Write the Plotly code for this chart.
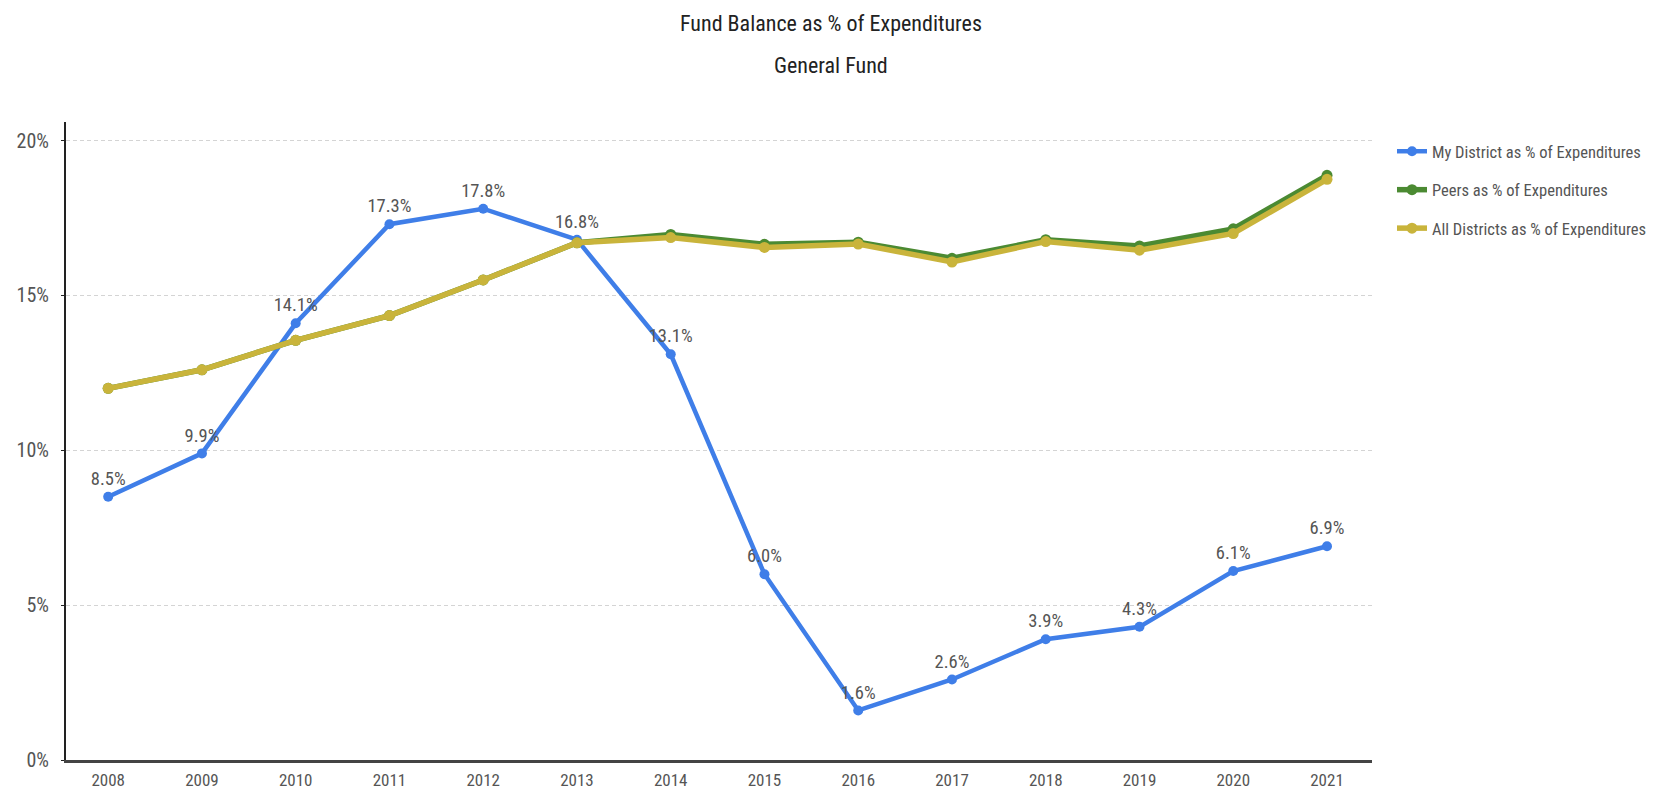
import plotly.graph_objects as go

years = ["2008", "2009", "2010", "2011", "2012", "2013", "2014", "2015", "2016", "2017", "2018", "2019", "2020", "2021"]
my_district = [8.5, 9.9, 14.1, 17.3, 17.8, 16.8, 13.1, 6.0, 1.6, 2.6, 3.9, 4.3, 6.1, 6.9]
peers = [12.0, 12.6, 13.55, 14.35, 15.5, 16.7, 16.97, 16.65, 16.72, 16.2, 16.8, 16.6, 17.15, 18.88]
all_districts = [12.0, 12.6, 13.55, 14.35, 15.5, 16.7, 16.87, 16.55, 16.66, 16.08, 16.74, 16.46, 17.0, 18.75]
y_ticks = [0, 5, 10, 15, 20]
y_tick_labels = ["0%", "5%", "10%", "15%", "20%"]

FONT = "Roboto Condensed, Liberation Sans Narrow, DejaVu Sans Condensed, Arial Narrow, sans-serif"

# The page has an 8px body margin, so the figure is sized to fit inside it.
W, H = 1656, 784
L, R, T, B = 58, 292, 114, 32
PW, PH = W - L - R, H - T - B

fig = go.Figure()
fig.add_trace(go.Scatter(
    x=years, y=my_district, name="My District as % of Expenditures",
    mode="lines+markers+text",
    text=[f"{v:.1f}%" for v in my_district], textposition="top center",
    textfont=dict(family=FONT, size=18.5, color="#555555"),
    line=dict(color="#3f7ee8", width=4.5), marker=dict(size=10, color="#3f7ee8"),
    legendgroup="a",
))
fig.add_trace(go.Scatter(
    x=years, y=peers, name="Peers as % of Expenditures", mode="lines+markers",
    line=dict(color="#4b8a32", width=5.5), marker=dict(size=11, color="#4b8a32"),
    legendgroup="b",
))
fig.add_trace(go.Scatter(
    x=years, y=all_districts, name="All Districts as % of Expenditures", mode="lines+markers",
    line=dict(color="#c9b43b", width=5.5), marker=dict(size=11, color="#c9b43b"),
    legendgroup="c",
))

fig.update_layout(
    width=W, height=H,
    margin=dict(l=L, r=R, t=T, b=B, autoexpand=False),
    paper_bgcolor="white", plot_bgcolor="white",
    font=dict(family=FONT, color="#555555"),
    showlegend=True,
    legend=dict(xref="container", yref="container", x=1384 / W, y=1 - 126 / H,
                xanchor="left", yanchor="top",
                font=dict(family=FONT, size=16.5, color="#555555"),
                tracegroupgap=14, itemwidth=30, bgcolor="rgba(0,0,0,0)"),
    xaxis=dict(type="category", range=[-0.45, 13.48], showgrid=False,
               showline=True, linecolor="#444444", linewidth=3,
               ticks="", tickfont=dict(family=FONT, size=17, color="#555555"),
               ticklabelstandoff=3, fixedrange=True),
    yaxis=dict(range=[0, 20.6], tickvals=y_ticks, ticktext=y_tick_labels,
               showgrid=True, gridcolor="#d4d4d4", griddash="4px,3px", gridwidth=1,
               showline=True, linecolor="#222222", linewidth=2, zeroline=False,
               ticks="outside", ticklen=3, tickcolor="#222222",
               tickfont=dict(family=FONT, size=20, color="#555555"),
               ticklabelstandoff=8, fixedrange=True),
    annotations=[
        dict(text="Fund Balance as % of Expenditures", xref="paper", yref="paper",
             x=(823 - L) / PW, y=1 + (T - 16) / PH, xanchor="center", yanchor="middle",
             showarrow=False, font=dict(family=FONT, size=22, color="#222222")),
        dict(text="General Fund", xref="paper", yref="paper",
             x=(823 - L) / PW, y=1 + (T - 57) / PH, xanchor="center", yanchor="middle",
             showarrow=False, font=dict(family=FONT, size=22, color="#222222")),
    ],
)

fig.write_html("out.html")
